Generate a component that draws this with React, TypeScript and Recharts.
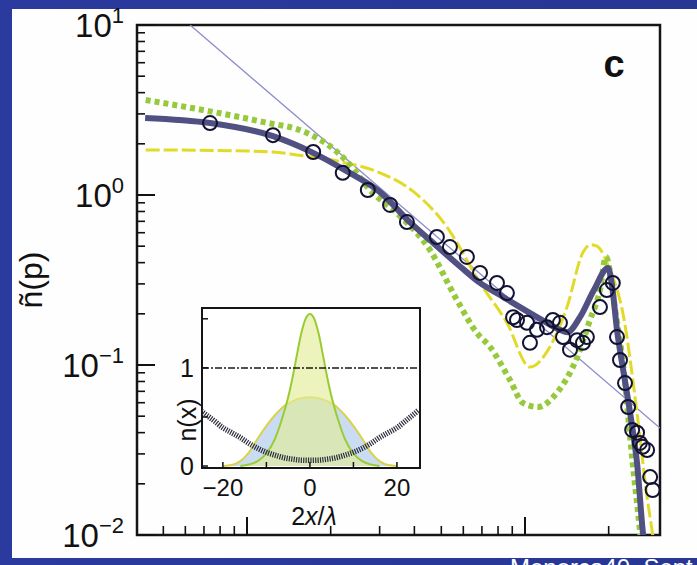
import React from "react";
import {
  Area,
  ComposedChart,
  Line,
  ReferenceArea,
  ReferenceLine,
  Scatter,
  XAxis,
  YAxis,
} from "recharts";

const FONT = "'Liberation Sans', Arial, Helvetica, sans-serif";

// -------------------------
// main panel (log-log)
// -------------------------
const pDomain = [0.0402, 3.06];
const nDomain = [0.01, 10];
const pTicks = [0.05, 0.06, 0.07, 0.08, 0.09, 0.1, 0.2, 0.3, 0.4, 0.5, 0.6, 0.7, 0.8, 0.9, 1, 2];
const pMajor = [0.1, 1];
const nTicks = [
  0.01, 0.02, 0.03, 0.04, 0.05, 0.06, 0.07, 0.08, 0.09,
  0.1, 0.2, 0.3, 0.4, 0.5, 0.6, 0.7, 0.8, 0.9,
  1, 2, 3, 4, 5, 6, 7, 8, 9, 10,
];
const nMajor = [0.01, 0.1, 1, 10];
const nMajorExp = ["\u22122", "\u22121", "0", "1"];

// thin power-law guide
const guideP = [0.0624, 3.06];
const guideN = [10, 0.0426];

// thick dark theory curve
const tonksP = [0.043, 0.0736, 0.124, 0.173, 0.225, 0.301, 0.386, 0.455, 0.584, 0.689, 0.813, 0.959, 1.2, 1.336, 1.42, 1.577, 1.77, 1.99, 2.055, 2.143, 2.24, 2.34, 2.44, 2.53, 2.65, 2.72];
const tonksN = [2.84, 2.65, 2.22, 1.77, 1.4, 1.04, 0.69, 0.543, 0.38, 0.304, 0.258, 0.219, 0.177, 0.161, 0.156, 0.191, 0.276, 0.372, 0.296, 0.161, 0.1, 0.0648, 0.0415, 0.0265, 0.0107, 0.0072];

// green dotted curve
const greenP = [0.0432, 0.0755, 0.114, 0.164, 0.211, 0.235, 0.277, 0.346, 0.455, 0.569, 0.672, 0.748, 0.883, 0.983, 1.114, 1.3, 1.54, 1.713, 1.861, 1.955, 2.11, 2.25, 2.44, 2.59, 2.65];
const greenN = [3.62, 3.08, 2.69, 2.32, 1.79, 1.5, 1.07, 0.783, 0.475, 0.241, 0.154, 0.128, 0.0816, 0.0598, 0.0566, 0.0684, 0.111, 0.184, 0.276, 0.432, 0.211, 0.103, 0.0265, 0.0107, 0.0072];

// yellow dashed curve
const yellowP = [0.0432, 0.0755, 0.124, 0.151, 0.221, 0.301, 0.396, 0.524, 0.689, 0.861, 1.042, 1.23, 1.416, 1.617, 1.72, 1.815, 2.02, 2.25, 2.53, 2.75, 2.88, 2.96];
const yellowN = [1.84, 1.83, 1.79, 1.72, 1.56, 1.35, 1.05, 0.648, 0.304, 0.177, 0.0973, 0.128, 0.219, 0.46, 0.51, 0.5, 0.362, 0.202, 0.0522, 0.0167, 0.01, 0.0072];

// measured points (open circles)
const measP = [0.0736, 0.124, 0.173, 0.221, 0.272, 0.327, 0.376, 0.482, 0.537, 0.618, 0.689, 0.793, 0.861, 0.906, 0.936, 1.017, 1.042, 1.104, 1.2, 1.26, 1.336, 1.37, 1.452, 1.54, 1.617, 1.67, 1.861, 1.97, 2.07, 2.143, 2.197, 2.29, 2.35, 2.43, 2.53, 2.59, 2.65, 2.75, 2.82, 2.88];
const measN = [2.65, 2.25, 1.79, 1.35, 1.07, 0.874, 0.693, 0.566, 0.494, 0.432, 0.348, 0.304, 0.265, 0.191, 0.184, 0.177, 0.135, 0.161, 0.167, 0.184, 0.177, 0.146, 0.123, 0.14, 0.135, 0.146, 0.219, 0.276, 0.304, 0.146, 0.107, 0.0783, 0.0566, 0.0415, 0.04, 0.0348, 0.033, 0.0316, 0.0219, 0.0184];

// -------------------------
// inset: density profiles n(x)
// -------------------------
const xDomain = [-24.8, 25.3];
const yDomainInset = [-0.02, 1.61];
const insetXTicks = [-20, -10, 0, 10, 20];
const insetXLabels = ["\u221220", "", "0", "", "20"];
const insetYTicks = [0, 0.5, 1, 1.5];
const insetYLabels = ["0", "", "1", ""];
const unityLevel = 1;

const peakX = [-16, -14, -12, -10, -8, -7, -6, -5, -4, -3, -2, -1, 0, 1, 2, 3, 4, 5, 6, 7, 8, 10, 12, 14, 16];
const peakN = [0, 0.015, 0.05, 0.13, 0.28, 0.4, 0.54, 0.7, 0.9, 1.13, 1.35, 1.5, 1.55, 1.5, 1.35, 1.13, 0.9, 0.7, 0.54, 0.4, 0.28, 0.13, 0.05, 0.015, 0];

const domeX = [-20, -18, -16, -14, -12, -10, -8, -6, -4, -2, 0, 2, 4, 6, 8, 10, 12, 14, 16, 18, 20];
const domeN = [0, 0.01, 0.05, 0.14, 0.28, 0.41, 0.52, 0.61, 0.66, 0.69, 0.7, 0.69, 0.66, 0.61, 0.52, 0.41, 0.28, 0.14, 0.05, 0.01, 0];

const trapX = [-25, -22, -20, -18, -16, -14, -12, -10, -8, -6, -4, -2, 0, 2, 4, 6, 8, 10, 12, 14, 16, 18, 20, 22, 25];
const trapN = [0.56, 0.46, 0.39, 0.34, 0.29, 0.23, 0.18, 0.14, 0.11, 0.085, 0.07, 0.06, 0.058, 0.06, 0.07, 0.085, 0.11, 0.14, 0.18, 0.23, 0.29, 0.34, 0.39, 0.46, 0.57];

const zipP = (ps: number[], ns: number[]) => ps.map((p, i) => ({ p, n: ns[i] }));
const zipX = (xs: number[], ns: number[]) => xs.map((x, i) => ({ x, n: ns[i] }));

// -------------------------
// ticks (all pointing inward)
// -------------------------
function PTick({ x, y, payload }: any) {
  const major = pMajor.includes(payload.value);
  return (
    <g>
      <line x1={x} x2={x} y1={y} y2={y - (major ? 18 : 9)} stroke="#111" strokeWidth={major ? 2 : 1.6} />
    </g>
  );
}

function NTick({ x, y, payload }: any) {
  const idx = nMajor.indexOf(payload.value);
  const major = idx >= 0;
  return (
    <g>
      <line x1={x} x2={x + (major ? 18 : 8)} y1={y} y2={y} stroke="#111" strokeWidth={major ? 2 : 1.6} />
      {major && (
        <text x={x - 13} y={y + 12} textAnchor="end" fontFamily={FONT} fontSize={33} fill="#111">
          10
          <tspan dy={-14} fontSize={22}>
            {nMajorExp[idx]}
          </tspan>
        </text>
      )}
    </g>
  );
}

function InsetXTick({ x, y, payload }: any) {
  const lab = insetXLabels[insetXTicks.indexOf(payload.value)];
  return (
    <g>
      <line x1={x} x2={x} y1={y} y2={y - 6} stroke="#111" strokeWidth={1.5} />
      {lab && (
        <text x={x} y={y + 28} textAnchor="middle" fontFamily={FONT} fontSize={24} fill="#111">
          {lab}
        </text>
      )}
    </g>
  );
}

function InsetYTick({ x, y, payload }: any) {
  const lab = insetYLabels[insetYTicks.indexOf(payload.value)];
  return (
    <g>
      <line x1={x} x2={x + 6} y1={y} y2={y} stroke="#111" strokeWidth={1.5} />
      {lab && (
        <text x={x - 8} y={y + 9} textAnchor="end" fontFamily={FONT} fontSize={25} fill="#111">
          {lab}
        </text>
      )}
    </g>
  );
}

function Ring(props: any) {
  const { cx, cy } = props;
  return <circle cx={cx} cy={cy} r={7} fill="none" stroke="#121232" strokeWidth={2} />;
}

export default function App() {
  return (
    <div
      style={{
        position: "absolute",
        left: 0,
        top: 0,
        width: 697,
        height: 565,
        overflow: "hidden",
        background: "linear-gradient(90deg, #2a3a9e 0%, #283794 100%)",
      }}
    >
      <div style={{ position: "absolute", left: 12, top: 9, width: 685, height: 549, background: "#fefefe" }} />

      {/* main chart */}
      <div style={{ position: "absolute", left: 0, top: 0 }}>
        <ComposedChart width={697} height={565} margin={{ top: 25, right: 37, left: 0, bottom: 0 }}>
          <XAxis
            dataKey="p"
            type="number"
            scale="log"
            domain={pDomain}
            allowDataOverflow
            ticks={pTicks}
            interval={0}
            tickSize={0}
            tickMargin={0}
            axisLine={false}
            tickLine={false}
            tick={(props: any) => <PTick {...props} />}
            height={30}
          />
          <YAxis
            dataKey="n"
            type="number"
            scale="log"
            domain={nDomain}
            allowDataOverflow
            ticks={nTicks}
            interval={0}
            tickSize={0}
            tickMargin={0}
            axisLine={false}
            tickLine={false}
            tick={(props: any) => <NTick {...props} />}
            width={137}
          />
          <ReferenceArea
            x1={pDomain[0]}
            x2={pDomain[1]}
            y1={nDomain[0]}
            y2={nDomain[1]}
            fill="none"
            stroke="#151515"
            strokeWidth={2.5}
            ifOverflow="visible"
          />
          <Line data={zipP(guideP, guideN)} dataKey="n" type="linear" stroke="#8c8cca" strokeWidth={1.3} dot={false} activeDot={false} isAnimationActive={false} />
          <Line data={zipP(yellowP, yellowN)} dataKey="n" type="monotone" stroke="#e2da28" strokeWidth={3} strokeDasharray="14 4" dot={false} activeDot={false} isAnimationActive={false} />
          <Line data={zipP(greenP, greenN)} dataKey="n" type="monotone" stroke="#97c93d" strokeWidth={6} strokeDasharray="5 4" dot={false} activeDot={false} isAnimationActive={false} />
          <Line data={zipP(tonksP, tonksN)} dataKey="n" type="monotone" stroke="#505082" strokeWidth={6} dot={false} activeDot={false} isAnimationActive={false} />
          <Scatter data={zipP(measP, measN)} dataKey="n" shape={(props: any) => <Ring {...props} />} isAnimationActive={false} />
        </ComposedChart>
      </div>

      {/* inset background */}
      <div style={{ position: "absolute", left: 202, top: 308, width: 218, height: 160, background: "#ffffff" }} />

      {/* inset chart */}
      <div style={{ position: "absolute", left: 150, top: 290 }}>
        <ComposedChart width={290} height={250} margin={{ top: 18, right: 20, left: 22, bottom: 32 }}>
          <XAxis
            dataKey="x"
            type="number"
            domain={xDomain}
            allowDataOverflow
            ticks={insetXTicks}
            interval={0}
            tickSize={0}
            tickMargin={0}
            axisLine={false}
            tickLine={false}
            tick={(props: any) => <InsetXTick {...props} />}
            height={40}
          />
          <YAxis
            dataKey="n"
            type="number"
            domain={yDomainInset}
            allowDataOverflow
            ticks={insetYTicks}
            interval={0}
            tickSize={0}
            tickMargin={0}
            axisLine={false}
            tickLine={false}
            tick={(props: any) => <InsetYTick {...props} />}
            width={30}
          />
          <Area data={zipX(domeX, domeN)} dataKey="n" type="monotone" baseValue={0} fill="#c9dcf2" fillOpacity={1} stroke="#d9d24a" strokeWidth={2} dot={false} activeDot={false} isAnimationActive={false} />
          <Area data={zipX(peakX, peakN)} dataKey="n" type="monotone" baseValue={0} fill="#e2ec98" fillOpacity={0.65} stroke="#9acb34" strokeWidth={2} dot={false} activeDot={false} isAnimationActive={false} />
          <ReferenceLine y={unityLevel} stroke="#1a1a1a" strokeWidth={1.5} strokeDasharray="7 2 2 2" />
          <Line data={zipX(trapX, trapN)} dataKey="n" type="monotone" stroke="#2d2d3c" strokeWidth={5.5} strokeDasharray="1.2 1.2" dot={false} activeDot={false} isAnimationActive={false} />
          <ReferenceArea
            x1={xDomain[0]}
            x2={xDomain[1]}
            y1={yDomainInset[0]}
            y2={yDomainInset[1]}
            fill="none"
            stroke="#151515"
            strokeWidth={2}
            ifOverflow="visible"
          />
        </ComposedChart>
      </div>

      {/* titles and panel letter */}
      <svg width={697} height={565} style={{ position: "absolute", left: 0, top: 0, pointerEvents: "none" }}>
        <text x={42} y={280} transform="rotate(-90 42 280)" textAnchor="middle" fontFamily={FONT} fontSize={32} fill="#111">
          {"\u00f1(p)"}
        </text>
        <text x={614} y={77} textAnchor="middle" fontFamily={FONT} fontWeight="bold" fontSize={38} fill="#111">
          c
        </text>
        <text x={196} y={420} transform="rotate(-90 196 420)" textAnchor="middle" fontFamily={FONT} fontSize={25} fill="#111">
          n(x)
        </text>
        <text x={314} y={525} textAnchor="middle" fontFamily={FONT} fontSize={25} fill="#111">
          2<tspan fontStyle="italic">x</tspan>/<tspan fontStyle="italic">{"\u03bb"}</tspan>
        </text>
      </svg>

      <div
        style={{
          position: "absolute",
          left: 510,
          top: 556,
          fontFamily: FONT,
          fontSize: 24,
          lineHeight: "24px",
          color: "#ffffff",
          whiteSpace: "nowrap",
        }}
      >
        Menorca40, Sept
      </div>
    </div>
  );
}
